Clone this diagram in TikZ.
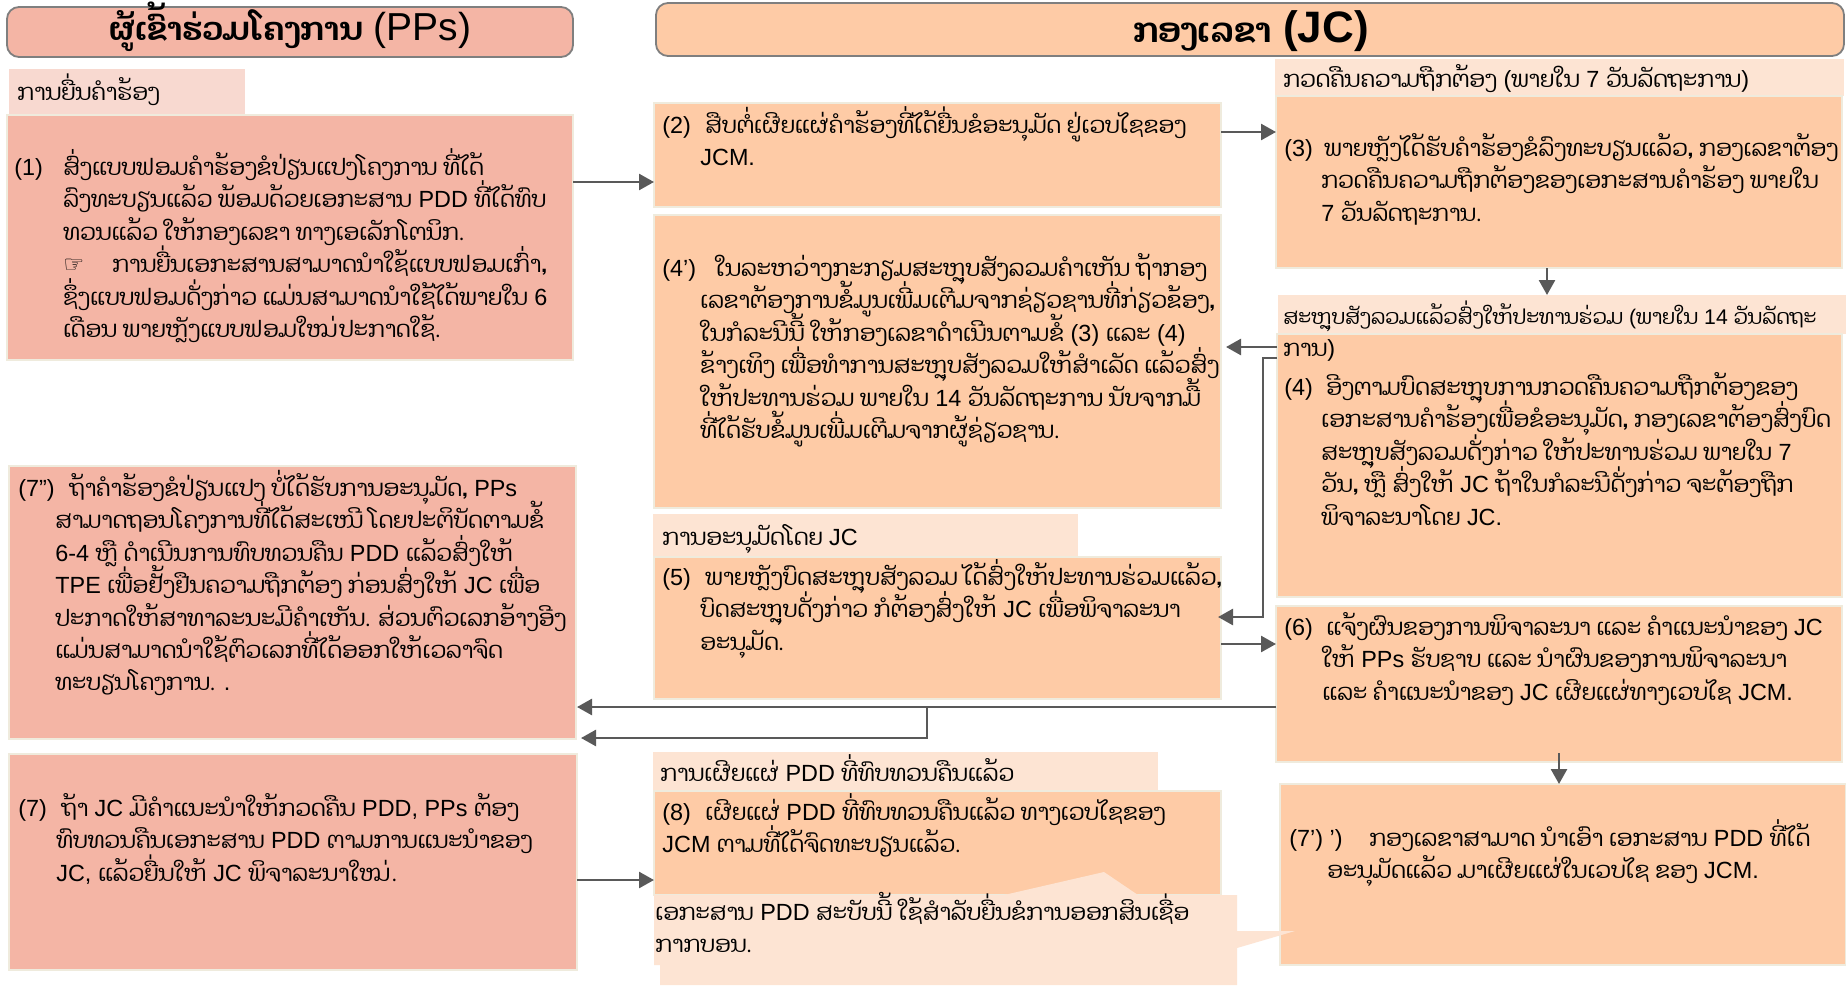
\documentclass[tikz,border=0pt]{standalone}
\usepackage{fontspec}
\setmainfont{Liberation Sans}
\newfontfamily\laofont[Script=Lao,Scale=0.975]{Dhyana}
\newfontfamily\symfont{DejaVu Sans}
\newcommand{\lo}[1]{{\laofont #1}}
\newdimen\pxu \pxu=0.5pt
\newcommand{\lb}[2]{\makebox[#1\pxu][l]{#2}}
\newcommand{\ind}[1]{\hspace*{#1\pxu}}
\lineskiplimit=-100pt
\definecolor{ppfill}{HTML}{F4B5A5}
\definecolor{jcfill}{HTML}{FECBA6}
\definecolor{pplight}{HTML}{F8D9D0}
\definecolor{jclight}{HTML}{FDE4D3}
\definecolor{edge}{HTML}{EFEBDD}
\definecolor{arrowgray}{HTML}{595959}
\definecolor{titleedge}{HTML}{7F7F7F}
\usetikzlibrary{arrows.meta}
\tikzset{
  ppbox/.style={fill=ppfill,draw=edge,line width=0.8pt},
  jcbox/.style={fill=jcfill,draw=edge,line width=0.8pt},
  pphead/.style={fill=pplight},
  jchead/.style={fill=jclight},
  pptitle/.style={fill=ppfill,draw=titleedge,line width=0.9pt,rounded corners=6pt},
  jctitle/.style={fill=jcfill,draw=titleedge,line width=0.9pt,rounded corners=6pt},
  txt/.style={anchor=north west,inner sep=0pt,align=left,text=black,
    font=\fontsize{11.7}{16.2}\selectfont},
  arr/.style={draw=arrowgray,line width=1.3pt,-{Triangle[length=7.5pt,width=8pt]}},
}
\newcommand{\bx}[6]{\node[#6,anchor=north west,inner sep=0pt,outer sep=0pt,
  minimum width={(#4-#2)*0.5pt},minimum height={(#5-#3)*0.5pt}] (#1) at (#2,#3) {};}
% text: name, x, centre of first line, content
\newcommand{\tx}[4]{\node[txt] (#1) at (#2,{#3-20}) {\rule{0pt}{14pt}#4};}
\begin{document}
\begin{tikzpicture}[x=0.5pt,y=-0.5pt]
\path[use as bounding box,fill=white] (0,0) rectangle (1846,985);
% titles
\bx{ppt}{7}{7}{573}{57}{pptitle}
\bx{jct}{656}{3}{1844}{56}{jctitle}
\node[inner sep=0pt,font=\fontsize{19.5}{22}\selectfont] (ppn) at (290,27) {{\fontsize{16.4}{20}\selectfont\bfseries\lo{ຜູ້ເຂົ້າຮ່ວມໂຄງການ}} (PPs)};
\node[inner sep=0pt,font=\fontsize{22}{24}\selectfont\bfseries] (jcn) at (1251,31) {{\fontsize{17.5}{20}\selectfont\lo{ກອງເລຂາ}} (JC)};
% boxes
\bx{h1}{9}{69}{245}{115}{pphead}
\bx{b1}{7}{115}{573}{360}{ppbox}
\bx{b7b}{9}{466}{576}{739}{ppbox}
\bx{b7}{9}{754}{577}{970}{ppbox}
\bx{b2}{654}{103}{1221}{207}{jcbox}
\bx{b4p}{654}{215}{1221}{508}{jcbox}
\bx{h5}{653}{514}{1078}{556}{jchead}
\bx{b5}{654}{557}{1221}{699}{jcbox}
\bx{h8}{653}{752}{1158}{793}{jchead}
\bx{b8}{654}{791}{1221}{895}{jcbox}
\bx{h3}{1275}{59}{1844}{96}{jchead}
\bx{b3}{1276}{96}{1842}{268}{jcbox}
\bx{h4}{1278}{295}{1846}{334}{jchead}
\bx{b4}{1277}{334}{1842}{597}{jcbox}
\bx{b6}{1276}{606}{1842}{762}{jcbox}
\bx{b7p}{1280}{784}{1846}{965}{jcbox}
% callout
\fill[jclight] (654,895) -- (1004,895) -- (1104,872) -- (1138,895) -- (1237,895) -- (1237,931) -- (1295,931) -- (1237,948) -- (1237,985) -- (660,985) -- (660,965) -- (654,965) -- cycle;
% texts
\tx{th1}{17}{92}{\lo{ການຍື່ນຄຳຮ້ອງ}}
\tx{t1}{14}{167}{\lb{49}{(1)}\lo{ສົ່ງແບບຟອມຄຳຮ້ອງຂໍປ່ຽນແປງໂຄງການ ທີ່ໄດ້}\\
\ind{49}\lo{ລົງທະບຽນແລ້ວ ພ້ອມດ້ວຍເອກະສານ} PDD \lo{ທີ່ໄດ້ທົບ}\\
\ind{49}\lo{ທວນແລ້ວ ໃຫ້ກອງເລຂາ ທາງເອເລັກໂຕນິກ.}\\
\ind{49}\lb{49}{{\symfont ☞}}\lo{ການຍື່ນເອກະສານສາມາດນຳໃຊ້ແບບຟອມເກົ່າ,}\\
\ind{49}\lo{ຊຶ່ງແບບຟອມດັ່ງກ່າວ ແມ່ນສາມາດນຳໃຊ້ໄດ້ພາຍໃນ} 6\\
\ind{49}\lo{ເດືອນ ພາຍຫຼັງແບບຟອມໃໝ່ປະກາດໃຊ້.}}
\tx{t7b}{18}{488}{\lb{51}{(7”)}\lo{ຖ້າຄຳຮ້ອງຂໍປ່ຽນແປງ ບໍ່ໄດ້ຮັບການອະນຸມັດ,} PPs\\
\ind{37}\lo{ສາມາດຖອນໂຄງການທີ່ໄດ້ສະເໜີ ໂດຍປະຕິບັດຕາມຂໍ້}\\
\ind{37}6-4 \lo{ຫຼື ດຳເນີນການທົບທວນຄືນ} PDD \lo{ແລ້ວສົ່ງໃຫ້}\\
\ind{37}TPE \lo{ເພື່ອຢັ້ງຢືນຄວາມຖືກຕ້ອງ ກ່ອນສົ່ງໃຫ້} JC \lo{ເພື່ອ}\\
\ind{37}\lo{ປະກາດໃຫ້ສາທາລະນະມີຄຳເຫັນ. ສ່ວນຕົວເລກອ້າງອີງ}\\
\ind{37}\lo{ແມ່ນສາມາດນຳໃຊ້ຕົວເລກທີ່ໄດ້ອອກໃຫ້ເວລາຈົດ}\\
\ind{37}\lo{ທະບຽນໂຄງການ.} .}
\tx{t7}{18}{808}{\lb{43}{(7)}\lo{ຖ້າ} JC \lo{ມີຄຳແນະນຳໃຫ້ກວດຄືນ} PDD, PPs \lo{ຕ້ອງ}\\
\ind{38}\lo{ທົບທວນຄືນເອກະສານ} PDD \lo{ຕາມການແນະນຳຂອງ}\\
\ind{38}JC, \lo{ແລ້ວຍື່ນໃຫ້} JC \lo{ພິຈາລະນາໃໝ່.}}
\tx{t2}{662}{125}{\lb{43}{(2)}\lo{ສືບຕໍ່ເຜີຍແຜ່ຄຳຮ້ອງທີ່ໄດ້ຍື່ນຂໍອະນຸມັດ ຢູ່ເວບໄຊຂອງ}\\
\ind{38}JCM.}
\tx{t4p}{662}{268}{\lb{53}{(4’)}\lo{ໃນລະຫວ່າງກະກຽມສະຫຼຸບສັງລວມຄຳເຫັນ ຖ້າກອງ}\\
\ind{38}\lo{ເລຂາຕ້ອງການຂໍ້ມູນເພີ່ມເຕີມຈາກຊ່ຽວຊານທີ່ກ່ຽວຂ້ອງ,}\\
\ind{38}\lo{ໃນກໍລະນີນີ້ ໃຫ້ກອງເລຂາດຳເນີນຕາມຂໍ້} (3) \lo{ແລະ} (4)\\
\ind{38}\lo{ຂ້າງເທິງ ເພື່ອທຳການສະຫຼຸບສັງລວມໃຫ້ສຳເລັດ ແລ້ວສົ່ງ}\\
\ind{38}\lo{ໃຫ້ປະທານຮ່ວມ ພາຍໃນ} 14 \lo{ວັນລັດຖະການ ນັບຈາກມື້}\\
\ind{38}\lo{ທີ່ໄດ້ຮັບຂໍ້ມູນເພີ່ມເຕີມຈາກຜູ້ຊ່ຽວຊານ.}}
\tx{th5}{662}{537}{\lo{ການອະນຸມັດໂດຍ} JC}
\tx{t5}{662}{577}{\lb{43}{(5)}\lo{ພາຍຫຼັງບົດສະຫຼຸບສັງລວມ ໄດ້ສົ່ງໃຫ້ປະທານຮ່ວມແລ້ວ,}\\
\ind{38}\lo{ບົດສະຫຼຸບດັ່ງກ່າວ ກໍຕ້ອງສົ່ງໃຫ້} JC \lo{ເພື່ອພິຈາລະນາ}\\
\ind{38}\lo{ອະນຸມັດ.}}
\tx{th8}{660}{773}{\lo{ການເຜີຍແຜ່} PDD \lo{ທີ່ທົບທວນຄືນແລ້ວ}}
\tx{t8}{662}{812}{\lb{43}{(8)}\lo{ເຜີຍແຜ່} PDD \lo{ທີ່ທົບທວນຄືນແລ້ວ ທາງເວບໄຊຂອງ}\\
JCM \lo{ຕາມທີ່ໄດ້ຈົດທະບຽນແລ້ວ.}}
\tx{tc}{655}{912}{\lo{ເອກະສານ} PDD \lo{ສະບັບນີ້ ໃຊ້ສຳລັບຍື່ນຂໍການອອກສິນເຊື່ອ}\\
\lo{ກາກບອນ.}}
\tx{th3}{1283}{79}{\lo{ກວດຄືນຄວາມຖືກຕ້ອງ} (\lo{ພາຍໃນ} 7 \lo{ວັນລັດຖະການ})}
\tx{t3}{1284}{148}{\lb{40}{(3)}\lo{ພາຍຫຼັງໄດ້ຮັບຄຳຮ້ອງຂໍລົງທະບຽນແລ້ວ, ກອງເລຂາຕ້ອງ}\\
\ind{37}\lo{ກວດຄືນຄວາມຖືກຕ້ອງຂອງເອກະສານຄຳຮ້ອງ ພາຍໃນ}\\
\ind{37}7 \lo{ວັນລັດຖະການ.}}
\tx{th4}{1283}{316}{\fontsize{10.6}{16.2}\selectfont\lo{ສະຫຼຸບສັງລວມແລ້ວສົ່ງໃຫ້ປະທານຮ່ວມ} (\lo{ພາຍໃນ} 14 \lo{ວັນລັດຖະ}\\
\lo{ການ})}
\tx{t4}{1284}{387}{\lb{42}{(4)}\lo{ອີງຕາມບົດສະຫຼຸບການກວດຄືນຄວາມຖືກຕ້ອງຂອງ}\\
\ind{37}\lo{ເອກະສານຄຳຮ້ອງເພື່ອຂໍອະນຸມັດ, ກອງເລຂາຕ້ອງສົ່ງບົດ}\\
\ind{37}\lo{ສະຫຼຸບສັງລວມດັ່ງກ່າວ ໃຫ້ປະທານຮ່ວມ ພາຍໃນ} 7\\
\ind{37}\lo{ວັນ, ຫຼື ສົ່ງໃຫ້} JC \lo{ຖ້າໃນກໍລະນີດັ່ງກ່າວ ຈະຕ້ອງຖືກ}\\
\ind{37}\lo{ພິຈາລະນາໂດຍ} JC.}
\tx{t6}{1284}{627}{\lb{42}{(6)}\lo{ແຈ້ງຜົນຂອງການພິຈາລະນາ ແລະ ຄຳແນະນຳຂອງ} JC\\
\ind{38}\lo{ໃຫ້} PPs \lo{ຮັບຊາບ ແລະ ນຳຜົນຂອງການພິຈາລະນາ}\\
\ind{38}\lo{ແລະ ຄຳແນະນຳຂອງ} JC \lo{ເຜີຍແຜ່ທາງເວບໄຊ} JCM.}
\tx{t7p}{1289}{838}{\lb{80}{(7’) ’)}\lo{ກອງເລຂາສາມາດ ນຳເອົາ ເອກະສານ} PDD \lo{ທີ່ໄດ້}\\
\ind{38}\lo{ອະນຸມັດແລ້ວ ມາເຜີຍແຜ່ໃນເວບໄຊ ຂອງ} JCM.}
% connectors
\draw[arr] ([yshift=55.5*0.5pt]b1.east) -- ([yshift=55.5*0.5pt]b1.east -| b2.west);
\draw[arr] ([yshift=23*0.5pt]b2.east) -- ([yshift=23*0.5pt]b2.east -| b3.west);
\draw[arr] ([xshift=-12*0.5pt]b3.south) -- ([xshift=-12*0.5pt]b3.south |- h4.north);
\draw[arr] ([yshift=118.5*0.5pt]b4.west) -- ([yshift=118.5*0.5pt,xshift=5*0.5pt]b4.west -| b4p.east);
\coordinate (k4) at ([yshift=107.5*0.5pt,xshift=-14*0.5pt]b4.west);
\coordinate (k5) at ([yshift=11*0.5pt]b5.east -| k4);
\draw[arr] ([yshift=107.5*0.5pt]b4.west) -- (k4) -- (k5) -- ([xshift=-3*0.5pt]k5 -| b5.east);
\draw[arr] ([yshift=-16*0.5pt]b5.east) -- ([yshift=-16*0.5pt]b5.east -| b6.west);
\coordinate (j6) at (927,707);
\coordinate (j7) at (581,738);
\draw[arr] ([yshift=-23*0.5pt]b6.west) -- ([yshift=-23*0.5pt,xshift=1*0.5pt]b6.west -| b7b.east);
\draw[arr] (j6) -- (j6 |- j7) -- (j7);
\coordinate (d6) at (1559,753);
\draw[arr] (d6) -- (d6 |- b7p.north);
\draw[arr] ([yshift=-18*0.5pt]b7.east) -- ([yshift=-18*0.5pt]b7.east -| b8.west);
\end{tikzpicture}
\end{document}
